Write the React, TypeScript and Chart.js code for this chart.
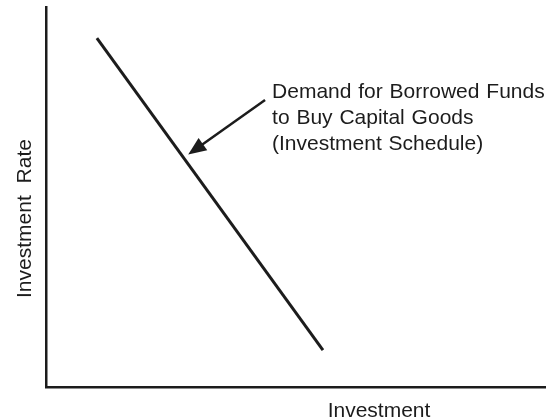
import React, { useEffect, useRef } from "react";
import { Chart, registerables } from "chart.js";

Chart.register(...registerables);

// ---- data ----
const X_TITLE = "Investment";
const Y_TITLE = "Investment Rate";
const LABEL_LINES = [
  "Demand for Borrowed Funds",
  "to Buy Capital Goods",
  "(Investment Schedule)",
];
const AXIS_MIN = 0;
const AXIS_MAX = 100;
// demand (investment schedule) line end points
const demandX = [10.2, 55.5];
const demandY = [91.8, 9.7];
// annotation arrow: from label towards the curve
const arrowFrom = [43.9, 75.5];
const arrowTo = [28.5, 61.2];
// label anchor (left / first baseline)
const labelAnchor = [45.3, 76.1];

const FONT = '"Liberation Sans", Arial, Helvetica, sans-serif';
const INK = "#1c1c1c";

const annotationPlugin = {
  id: "annot",
  afterDatasetsDraw(chart: any) {
    const { ctx, scales } = chart;
    const xs = scales.x;
    const ys = scales.y;
    // arrow
    const x0 = xs.getPixelForValue(arrowFrom[0]);
    const y0 = ys.getPixelForValue(arrowFrom[1]);
    const x1 = xs.getPixelForValue(arrowTo[0]);
    const y1 = ys.getPixelForValue(arrowTo[1]);
    const ang = Math.atan2(y1 - y0, x1 - x0);
    const headLen = 18;
    const headHalf = 7.5;
    const bx = x1 - headLen * Math.cos(ang);
    const by = y1 - headLen * Math.sin(ang);
    ctx.save();
    ctx.strokeStyle = INK;
    ctx.fillStyle = INK;
    ctx.lineWidth = 2.5;
    ctx.beginPath();
    ctx.moveTo(x0, y0);
    ctx.lineTo(bx + 2 * Math.cos(ang), by + 2 * Math.sin(ang));
    ctx.stroke();
    ctx.beginPath();
    ctx.moveTo(x1, y1);
    ctx.lineTo(bx + headHalf * Math.sin(ang), by - headHalf * Math.cos(ang));
    ctx.lineTo(bx - headHalf * Math.sin(ang), by + headHalf * Math.cos(ang));
    ctx.closePath();
    ctx.fill();

    // label
    ctx.font = `21px ${FONT}`;
    (ctx as any).wordSpacing = "1px";
    ctx.textAlign = "left";
    ctx.textBaseline = "alphabetic";
    const lx = xs.getPixelForValue(labelAnchor[0]);
    const ly = ys.getPixelForValue(labelAnchor[1]);
    LABEL_LINES.forEach((t, i) => ctx.fillText(t, lx, ly + i * 26));
    ctx.restore();
  },
  afterDraw(chart: any) {
    const { ctx, chartArea } = chart;
    ctx.save();
    ctx.fillStyle = INK;
    ctx.font = `21px ${FONT}`;
    // x title
    ctx.textAlign = "center";
    ctx.textBaseline = "alphabetic";
    ctx.fillText(X_TITLE, chartArea.left + 333, chartArea.bottom + 30);
    // y title
    (ctx as any).wordSpacing = "6px";
    ctx.textAlign = "left";
    ctx.translate(chartArea.left - 15, chartArea.bottom - 89);
    ctx.rotate(-Math.PI / 2);
    ctx.fillText(Y_TITLE, 0, 0);
    ctx.restore();
  },
};

export default function App() {
  const ref = useRef<HTMLCanvasElement | null>(null);
  useEffect(() => {
    if (!ref.current) return;
    const chart = new Chart(ref.current, {
      type: "line",
      data: {
        datasets: [
          {
            data: demandX.map((x, i) => ({ x, y: demandY[i] })),
            borderColor: INK,
            borderWidth: 3,
            pointRadius: 0,
            fill: false,
            tension: 0,
          },
        ],
      },
      options: {
        animation: false,
        responsive: false,
        events: [],
        layout: { padding: { left: 46, top: 7, right: 11, bottom: 33 } },
        plugins: {
          legend: { display: false },
          tooltip: { enabled: false },
          title: { display: false },
        },
        scales: {
          x: {
            type: "linear",
            min: AXIS_MIN,
            max: AXIS_MAX,
            grid: { display: false, drawTicks: false },
            ticks: { display: false },
            border: { display: true, color: INK, width: 2.5 },
          },
          y: {
            type: "linear",
            min: AXIS_MIN,
            max: AXIS_MAX,
            grid: { display: false, drawTicks: false },
            ticks: { display: false },
            border: { display: true, color: INK, width: 2.5 },
          },
        },
      },
      plugins: [annotationPlugin],
    });
    return () => chart.destroy();
  }, []);
  return (
    <div
      style={{
        position: "fixed",
        left: 0,
        top: 0,
        width: 556,
        height: 420,
        background: "#fff",
      }}
    >
      <canvas ref={ref} width={556} height={420} />
    </div>
  );
}
